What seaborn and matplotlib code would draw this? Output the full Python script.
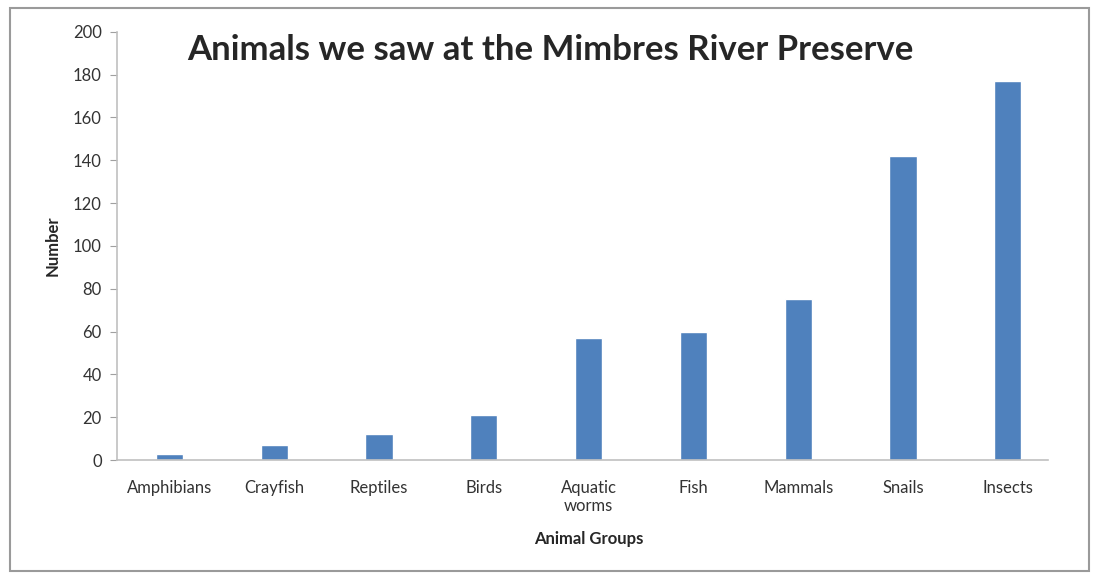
import pandas as pd
import matplotlib.pyplot as plt
import seaborn as sns
from matplotlib.patches import Rectangle

# -- Data
groups = ["Amphibians", "Crayfish", "Reptiles", "Birds", "Aquatic\nworms",
          "Fish", "Mammals", "Snails", "Insects"]
counts = [3, 7, 12, 21, 57, 60, 75, 142, 177]
yticks = list(range(0, 201, 20))

df = pd.DataFrame({"group": groups, "count": counts})

sns.set_style("white")
plt.rcParams["font.family"] = ["Lato", "DejaVu Sans"]

fig = plt.figure(figsize=(10.93, 5.78), dpi=100)
ax = fig.add_axes([0.107, 0.204, 0.863, 0.741])

sns.barplot(data=df, x="group", y="count", color="#4F81BD", width=0.26,
            saturation=1, ax=ax)

ax.set_ylim(0, 200)
ax.set_yticks(yticks)
ax.set_xlim(-0.5, len(groups) - 0.5)
ax.tick_params(axis="y", labelsize=12, length=5, color="#A0A0A0", pad=6,
               labelcolor="#333333", left=True)
ax.tick_params(axis="x", labelsize=12, length=0, pad=14, labelcolor="#333333")
for s in ["top", "right"]:
    ax.spines[s].set_visible(False)
for s in ["left", "bottom"]:
    ax.spines[s].set_color("#C0C0C0")
    ax.spines[s].set_linewidth(1.2)
ax.spines["bottom"].set_bounds(-0.5, len(groups) - 0.62)

ax.set_xlabel("Animal Groups", fontsize=12, fontweight="bold", labelpad=12)
ax.set_ylabel("Number", fontsize=12, fontweight="bold", labelpad=9)
ax.set_title("Animals we saw at the Mimbres River Preserve", fontsize=25,
             fontweight="bold", x=0.459, y=0.915, loc="center")

# -- Cadre extérieur
fig.patches.append(Rectangle((0.009, 0.012), 0.987, 0.975, transform=fig.transFigure,
                             fill=False, edgecolor="#9A9A9A", linewidth=1.5))

fig.savefig("out.png", dpi=100)
